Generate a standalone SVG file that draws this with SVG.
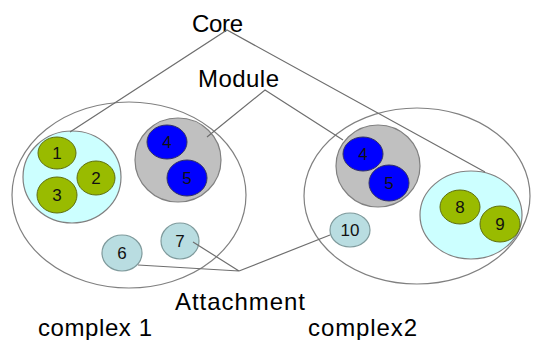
<svg xmlns="http://www.w3.org/2000/svg" width="533" height="340" viewBox="0 0 533 340">
  <style>
    .complex { fill: none; stroke: #808080; stroke-width: 1.2; }
    .core { fill: #ccffff; stroke: #808080; stroke-width: 1.2; }
    .module { fill: #c0c0c0; stroke: #808080; stroke-width: 1.2; }
    .green { fill: #99bb00; stroke: #5f6f10; stroke-width: 1; }
    .blue { fill: #0000ff; stroke: #333366; stroke-width: 1; }
    .attach { fill: #b9dde1; stroke: #7f9a9c; stroke-width: 1.2; }
    .num { font-family: "Liberation Sans", Arial, sans-serif; font-size: 17px; fill: #111; text-anchor: middle; }
    .label { font-family: "Liberation Sans", Arial, sans-serif; font-size: 24px; fill: #000; }
    .link { fill: none; stroke: #6e6e6e; stroke-width: 1.2; }
  </style>
  <rect width="533" height="340" fill="#ffffff"/>

  <!-- complexes -->
  <g id="complex1">
    <ellipse class="complex" cx="129" cy="195" rx="117" ry="93"/>
    <text class="label" x="38" y="336" textLength="114">complex 1</text>
  </g>
  <g id="complex2">
    <ellipse class="complex" cx="417" cy="196" rx="113" ry="88"/>
    <text class="label" x="308" y="336" textLength="109">complex2</text>
  </g>

  <!-- core of complex 1 -->
  <g id="core1">
    <ellipse class="core" cx="72" cy="177" rx="49" ry="46"/>
  </g>
  <g id="n1">
    <ellipse class="green" cx="57" cy="153" rx="19" ry="16"/>
    <text class="num" x="57" y="159">1</text>
  </g>
  <g id="n2">
    <ellipse class="green" cx="96" cy="178" rx="19" ry="17"/>
    <text class="num" x="96" y="184">2</text>
  </g>
  <g id="n3">
    <ellipse class="green" cx="57" cy="195" rx="20" ry="18"/>
    <text class="num" x="57" y="201">3</text>
  </g>

  <!-- module of complex 1 -->
  <g id="module1">
    <ellipse class="module" cx="178" cy="160" rx="43" ry="42"/>
  </g>
  <g id="n4a">
    <ellipse class="blue" cx="167" cy="142" rx="20" ry="17"/>
    <text class="num" x="167" y="148">4</text>
  </g>
  <g id="n5a">
    <ellipse class="blue" cx="187" cy="178" rx="20" ry="18"/>
    <text class="num" x="187" y="184">5</text>
  </g>

  <!-- attachments of complex 1 -->
  <g id="n6">
    <ellipse class="attach" cx="122" cy="253" rx="20" ry="18"/>
    <text class="num" x="122" y="259">6</text>
  </g>
  <g id="n7">
    <ellipse class="attach" cx="180" cy="241" rx="19" ry="18"/>
    <text class="num" x="180" y="247">7</text>
  </g>

  <!-- module of complex 2 -->
  <g id="module2">
    <ellipse class="module" cx="378" cy="166" rx="42" ry="41"/>
  </g>
  <g id="n4b">
    <ellipse class="blue" cx="363" cy="154" rx="20" ry="17"/>
    <text class="num" x="363" y="160">4</text>
  </g>
  <g id="n5b">
    <ellipse class="blue" cx="389" cy="183" rx="20" ry="18"/>
    <text class="num" x="389" y="189">5</text>
  </g>

  <!-- core of complex 2 -->
  <g id="core2">
    <ellipse class="core" cx="471" cy="215" rx="51" ry="44"/>
  </g>
  <g id="n8">
    <ellipse class="green" cx="460" cy="207" rx="20" ry="17"/>
    <text class="num" x="460" y="213">8</text>
  </g>
  <g id="n9">
    <ellipse class="green" cx="500" cy="224" rx="20" ry="18"/>
    <text class="num" x="500" y="230">9</text>
  </g>

  <!-- attachment of complex 2 -->
  <g id="n10">
    <ellipse class="attach" cx="350" cy="230" rx="20" ry="17"/>
    <text class="num" x="350" y="236">10</text>
  </g>

  <!-- category labels -->
  <g id="label-core">
    <text class="label" x="192" y="32" textLength="51">Core</text>
  </g>
  <g id="label-module">
    <text class="label" x="198" y="87" textLength="81">Module</text>
  </g>
  <g id="label-attachment">
    <text class="label" x="175" y="310" textLength="130">Attachment</text>
  </g>

  <!-- connectors from labels to the parts they name -->
  <g id="connectors">
    <polyline class="link" points="70,132 227,30 485,172"/>
    <polyline class="link" points="207,137 265,90 343,140"/>
    <polyline class="link" points="138,265 239,271 193,242"/>
    <line class="link" x1="239" y1="271" x2="330" y2="235"/>
  </g>
</svg>
